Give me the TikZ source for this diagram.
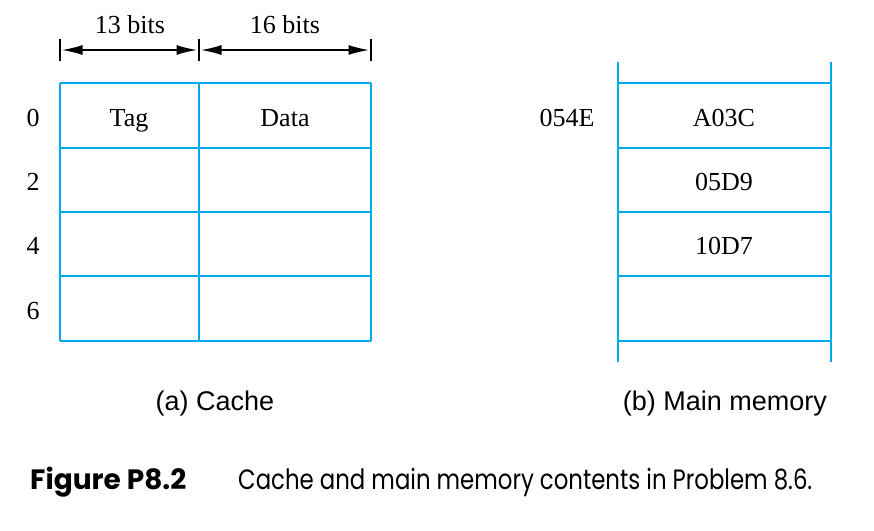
\documentclass[tikz,border=0pt]{standalone}
\usepackage{fontspec}
\setmainfont{Liberation Serif}
\newfontfamily\labfont{Liberation Sans}
\newfontfamily\figfont{Poppins}
\usepackage{xcolor}
\usetikzlibrary{arrows.meta}
\definecolor{memblue}{RGB}{0,170,232}

\begin{document}
\begin{tikzpicture}[
  x=1pt, y=-1pt,
  grid/.style={draw=memblue, line width=2pt},
  val/.style={font=\fontsize{26}{30}\selectfont, inner sep=0pt, anchor=base},
  sub/.style={font=\labfont\fontsize{27}{32}\selectfont, inner sep=0pt},
  figcap/.style={font=\figfont\fontsize{28}{32}\selectfont, inner sep=0pt, anchor=base west},
  dim/.style={{Latex[length=21pt,width=10pt]}-{Latex[length=21pt,width=10pt]}, line width=2pt, shorten <=1.5pt, shorten >=1.5pt},
  tick/.style={line width=2pt}
]
\useasboundingbox (0,0) rectangle (874,530);

% CACHE
\foreach \y in {83,148,212,276,341} \draw[grid] (60,\y) -- (371,\y);
\foreach \x in {60,199,371} \draw[grid] (\x,83) -- (\x,341);

\node[val] (tag) at (129,126) {Tag};
\node[val] (data) at (285,126) {Data};
\foreach \n/\y in {0/126,2/190,4/254,6/319}
  \node[val] (row\n) at (33,\y) {\n};

% field widths
\coordinate (t0) at (60,50);
\coordinate (t1) at (199,50);
\coordinate (t2) at (371,50);
\foreach \c in {t0,t1,t2} \draw[tick] ([yshift=-11pt]\c) -- ([yshift=11pt]\c);
\draw[dim] (t0) -- (t1);
\draw[dim] (t1) -- (t2);
\node[val] (tagbits) at (130,33) {13 bits};
\node[val] (databits) at (285,33) {16 bits};

% MAIN MEMORY
\foreach \y in {83,148,212,276,341} \draw[grid] (618,\y) -- (831,\y);
\foreach \x in {618,831} \draw[grid] (\x,62) -- (\x,362);

\node[val] (addr) at (567,126) {054E};
\node[val] (m0) at (724,126) {A03C};
\node[val] (m1) at (724,190) {05D9};
\node[val] (m2) at (724,254) {10D7};

% captions
\node[sub] (capa) at (215,404) {(a) Cache};
\node[sub] (capb) at (725,404) {(b) Main memory};

\node[figcap] (fig) at (30,489) {\bfseries Figure P8.2};
\node[figcap] (figtext) at (238,489) {\scalebox{0.815}[1]{Cache and main memory contents in Problem 8.6.}};
\end{tikzpicture}
\end{document}
